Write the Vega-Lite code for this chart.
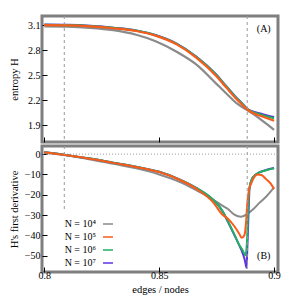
{
  "$schema": "https://vega.github.io/schema/vega-lite/v6.json",
  "padding": {"left": 7, "top": 14, "right": 14, "bottom": 2},
  "spacing": 0,
  "config": {
    "font": "Liberation Serif",
    "view": {"stroke": "#7f7f7f", "strokeWidth": 3},
    "axis": {
      "domain": false, "grid": false, "tickColor": "black", "tickSize": -5, "tickWidth": 1, "zindex": 2,
      "labelOverlap": false, "labelBound": false, "labelFlush": false,
      "labelFont": "Liberation Serif", "labelFontSize": 10, "labelColor": "black",
      "titleFont": "Liberation Serif", "titleFontSize": 10.5, "titleFontWeight": "normal", "titleColor": "black"
    },
    "legend": {"labelFont": "Liberation Serif", "labelFontSize": 10, "labelColor": "black"}
  },
  "datasets": {
    "hdata": [
      {"x": 0.800, "N": "N = 10⁴", "v": 3.085}, {"x": 0.810, "N": "N = 10⁴", "v": 3.082}, {"x": 0.820, "N": "N = 10⁴", "v": 3.068},
      {"x": 0.830, "N": "N = 10⁴", "v": 3.040}, {"x": 0.840, "N": "N = 10⁴", "v": 2.985}, {"x": 0.8487, "N": "N = 10⁴", "v": 2.905},
      {"x": 0.8574, "N": "N = 10⁴", "v": 2.785}, {"x": 0.8661, "N": "N = 10⁴", "v": 2.630}, {"x": 0.8748, "N": "N = 10⁴", "v": 2.400},
      {"x": 0.8791, "N": "N = 10⁴", "v": 2.285}, {"x": 0.8835, "N": "N = 10⁴", "v": 2.170}, {"x": 0.8883, "N": "N = 10⁴", "v": 2.082},
      {"x": 0.891, "N": "N = 10⁴", "v": 2.035}, {"x": 0.894, "N": "N = 10⁴", "v": 1.975}, {"x": 0.897, "N": "N = 10⁴", "v": 1.910},
      {"x": 0.900, "N": "N = 10⁴", "v": 1.845},

      {"x": 0.800, "N": "N = 10⁷", "v": 3.106}, {"x": 0.810, "N": "N = 10⁷", "v": 3.103}, {"x": 0.820, "N": "N = 10⁷", "v": 3.091},
      {"x": 0.830, "N": "N = 10⁷", "v": 3.069}, {"x": 0.840, "N": "N = 10⁷", "v": 3.036}, {"x": 0.8487, "N": "N = 10⁷", "v": 2.978},
      {"x": 0.8574, "N": "N = 10⁷", "v": 2.882}, {"x": 0.8661, "N": "N = 10⁷", "v": 2.724}, {"x": 0.8748, "N": "N = 10⁷", "v": 2.508},
      {"x": 0.8791, "N": "N = 10⁷", "v": 2.371}, {"x": 0.8835, "N": "N = 10⁷", "v": 2.234}, {"x": 0.8864, "N": "N = 10⁷", "v": 2.153},
      {"x": 0.8883, "N": "N = 10⁷", "v": 2.096}, {"x": 0.891, "N": "N = 10⁷", "v": 2.062}, {"x": 0.894, "N": "N = 10⁷", "v": 2.040},
      {"x": 0.897, "N": "N = 10⁷", "v": 2.018}, {"x": 0.900, "N": "N = 10⁷", "v": 1.998},

      {"x": 0.800, "N": "N = 10⁶", "v": 3.104}, {"x": 0.810, "N": "N = 10⁶", "v": 3.101}, {"x": 0.820, "N": "N = 10⁶", "v": 3.089},
      {"x": 0.830, "N": "N = 10⁶", "v": 3.067}, {"x": 0.840, "N": "N = 10⁶", "v": 3.034}, {"x": 0.8487, "N": "N = 10⁶", "v": 2.976},
      {"x": 0.8574, "N": "N = 10⁶", "v": 2.879}, {"x": 0.8661, "N": "N = 10⁶", "v": 2.720}, {"x": 0.8748, "N": "N = 10⁶", "v": 2.504},
      {"x": 0.8791, "N": "N = 10⁶", "v": 2.367}, {"x": 0.8835, "N": "N = 10⁶", "v": 2.230}, {"x": 0.8864, "N": "N = 10⁶", "v": 2.150},
      {"x": 0.8883, "N": "N = 10⁶", "v": 2.094}, {"x": 0.891, "N": "N = 10⁶", "v": 2.055}, {"x": 0.894, "N": "N = 10⁶", "v": 2.030},
      {"x": 0.897, "N": "N = 10⁶", "v": 2.005}, {"x": 0.900, "N": "N = 10⁶", "v": 1.985},

      {"x": 0.800, "N": "N = 10⁵", "v": 3.100}, {"x": 0.810, "N": "N = 10⁵", "v": 3.097}, {"x": 0.820, "N": "N = 10⁵", "v": 3.085},
      {"x": 0.830, "N": "N = 10⁵", "v": 3.063}, {"x": 0.840, "N": "N = 10⁵", "v": 3.030}, {"x": 0.8487, "N": "N = 10⁵", "v": 2.972},
      {"x": 0.8574, "N": "N = 10⁵", "v": 2.873}, {"x": 0.8661, "N": "N = 10⁵", "v": 2.712}, {"x": 0.8748, "N": "N = 10⁵", "v": 2.492},
      {"x": 0.8791, "N": "N = 10⁵", "v": 2.355}, {"x": 0.8835, "N": "N = 10⁵", "v": 2.218}, {"x": 0.8864, "N": "N = 10⁵", "v": 2.140},
      {"x": 0.8883, "N": "N = 10⁵", "v": 2.090}, {"x": 0.891, "N": "N = 10⁵", "v": 2.045}, {"x": 0.894, "N": "N = 10⁵", "v": 2.015},
      {"x": 0.897, "N": "N = 10⁵", "v": 1.985}, {"x": 0.900, "N": "N = 10⁵", "v": 1.955}
    ],
    "ddata": [
      {"x": 0.800, "N": "N = 10⁴", "v": 0.8}, {"x": 0.810, "N": "N = 10⁴", "v": -0.7}, {"x": 0.820, "N": "N = 10⁴", "v": -2.6},
      {"x": 0.830, "N": "N = 10⁴", "v": -4.8}, {"x": 0.840, "N": "N = 10⁴", "v": -7.0}, {"x": 0.850, "N": "N = 10⁴", "v": -10.0},
      {"x": 0.8588, "N": "N = 10⁴", "v": -13.6}, {"x": 0.8661, "N": "N = 10⁴", "v": -17.7}, {"x": 0.8733, "N": "N = 10⁴", "v": -22.2},
      {"x": 0.8777, "N": "N = 10⁴", "v": -25.5}, {"x": 0.8799, "N": "N = 10⁴", "v": -27.0}, {"x": 0.8827, "N": "N = 10⁴", "v": -29.8},
      {"x": 0.8857, "N": "N = 10⁴", "v": -30.8}, {"x": 0.8886, "N": "N = 10⁴", "v": -29.2}, {"x": 0.891, "N": "N = 10⁴", "v": -27.0},
      {"x": 0.8936, "N": "N = 10⁴", "v": -24.0}, {"x": 0.8965, "N": "N = 10⁴", "v": -21.0}, {"x": 0.900, "N": "N = 10⁴", "v": -16.4},

      {"x": 0.800, "N": "N = 10⁷", "v": 0.9}, {"x": 0.810, "N": "N = 10⁷", "v": -0.5}, {"x": 0.820, "N": "N = 10⁷", "v": -2.2},
      {"x": 0.830, "N": "N = 10⁷", "v": -4.2}, {"x": 0.840, "N": "N = 10⁷", "v": -6.2}, {"x": 0.850, "N": "N = 10⁷", "v": -8.7},
      {"x": 0.8588, "N": "N = 10⁷", "v": -12.4}, {"x": 0.8661, "N": "N = 10⁷", "v": -16.6}, {"x": 0.8733, "N": "N = 10⁷", "v": -22.3},
      {"x": 0.8777, "N": "N = 10⁷", "v": -28.4}, {"x": 0.8799, "N": "N = 10⁷", "v": -33.3}, {"x": 0.8827, "N": "N = 10⁷", "v": -39.8},
      {"x": 0.8849, "N": "N = 10⁷", "v": -45.0}, {"x": 0.8859, "N": "N = 10⁷", "v": -47.5}, {"x": 0.8871, "N": "N = 10⁷", "v": -51.5},
      {"x": 0.8876, "N": "N = 10⁷", "v": -54.0}, {"x": 0.8880, "N": "N = 10⁷", "v": -56.0}, {"x": 0.8884, "N": "N = 10⁷", "v": -44.8},
      {"x": 0.8887, "N": "N = 10⁷", "v": -35.0}, {"x": 0.8890, "N": "N = 10⁷", "v": -25.0}, {"x": 0.8893, "N": "N = 10⁷", "v": -17.0},
      {"x": 0.8907, "N": "N = 10⁷", "v": -11.5}, {"x": 0.8936, "N": "N = 10⁷", "v": -9.0}, {"x": 0.8965, "N": "N = 10⁷", "v": -7.8},
      {"x": 0.900, "N": "N = 10⁷", "v": -6.8},

      {"x": 0.800, "N": "N = 10⁶", "v": 0.9}, {"x": 0.810, "N": "N = 10⁶", "v": -0.5}, {"x": 0.820, "N": "N = 10⁶", "v": -2.2},
      {"x": 0.830, "N": "N = 10⁶", "v": -4.2}, {"x": 0.840, "N": "N = 10⁶", "v": -6.2}, {"x": 0.850, "N": "N = 10⁶", "v": -8.7},
      {"x": 0.8588, "N": "N = 10⁶", "v": -12.4}, {"x": 0.8661, "N": "N = 10⁶", "v": -16.6}, {"x": 0.8733, "N": "N = 10⁶", "v": -22.3},
      {"x": 0.8777, "N": "N = 10⁶", "v": -28.2}, {"x": 0.8799, "N": "N = 10⁶", "v": -33.0}, {"x": 0.8827, "N": "N = 10⁶", "v": -39.5},
      {"x": 0.8849, "N": "N = 10⁶", "v": -44.8}, {"x": 0.8859, "N": "N = 10⁶", "v": -46.5}, {"x": 0.8871, "N": "N = 10⁶", "v": -49.0},
      {"x": 0.8875, "N": "N = 10⁶", "v": -49.8}, {"x": 0.8883, "N": "N = 10⁶", "v": -40.8}, {"x": 0.8886, "N": "N = 10⁶", "v": -30.0},
      {"x": 0.8893, "N": "N = 10⁶", "v": -16.4}, {"x": 0.8907, "N": "N = 10⁶", "v": -11.5}, {"x": 0.8936, "N": "N = 10⁶", "v": -9.0},
      {"x": 0.8965, "N": "N = 10⁶", "v": -7.9}, {"x": 0.900, "N": "N = 10⁶", "v": -6.9},

      {"x": 0.800, "N": "N = 10⁵", "v": 0.9}, {"x": 0.810, "N": "N = 10⁵", "v": -0.6}, {"x": 0.820, "N": "N = 10⁵", "v": -2.3},
      {"x": 0.830, "N": "N = 10⁵", "v": -4.3}, {"x": 0.840, "N": "N = 10⁵", "v": -6.3}, {"x": 0.850, "N": "N = 10⁵", "v": -8.8},
      {"x": 0.8588, "N": "N = 10⁵", "v": -12.6}, {"x": 0.8661, "N": "N = 10⁵", "v": -17.0}, {"x": 0.8733, "N": "N = 10⁵", "v": -23.5},
      {"x": 0.8777, "N": "N = 10⁵", "v": -30.0}, {"x": 0.8799, "N": "N = 10⁵", "v": -31.8}, {"x": 0.8827, "N": "N = 10⁵", "v": -35.5},
      {"x": 0.8849, "N": "N = 10⁵", "v": -39.3}, {"x": 0.8859, "N": "N = 10⁵", "v": -41.2}, {"x": 0.8871, "N": "N = 10⁵", "v": -39.8},
      {"x": 0.8878, "N": "N = 10⁵", "v": -33.3}, {"x": 0.8883, "N": "N = 10⁵", "v": -25.0}, {"x": 0.8890, "N": "N = 10⁵", "v": -18.0},
      {"x": 0.8900, "N": "N = 10⁵", "v": -14.5}, {"x": 0.8914, "N": "N = 10⁵", "v": -11.2}, {"x": 0.8929, "N": "N = 10⁵", "v": -10.0},
      {"x": 0.8945, "N": "N = 10⁵", "v": -10.3}, {"x": 0.8965, "N": "N = 10⁵", "v": -12.3}, {"x": 0.8987, "N": "N = 10⁵", "v": -14.8},
      {"x": 0.900, "N": "N = 10⁵", "v": -17.2}
    ]
  },
  "vconcat": [
    {
      "width": 236, "height": 126,
      "layer": [
        {
          "data": {"name": "hdata"},
          "mark": {"type": "line", "interpolate": "monotone", "strokeWidth": 2.2, "clip": true},
          "encoding": {
            "x": {"field": "x", "type": "quantitative", "scale": {"domain": [0.799, 0.9017], "nice": false, "zero": false},
                  "axis": {"orient": "bottom", "values": [0.8, 0.85, 0.9], "tickCount": 20, "labels": false, "title": null}},
            "y": {"field": "v", "type": "quantitative", "scale": {"domain": [1.7, 3.21], "nice": false, "zero": false},
                  "axis": {"orient": "left", "values": [1.9, 2.2, 2.5, 2.8, 3.1], "tickCount": 20, "format": ".1f", "labelOverlap": false, "title": "entropy H", "titlePadding": 8, "labelPadding": 7}},
            "color": {"field": "N", "type": "nominal",
                      "scale": {"domain": ["N = 10⁴", "N = 10⁵", "N = 10⁶", "N = 10⁷"], "range": ["#8a8a8a", "#fb5b1a", "#22b060", "#5b33e0"]},
                      "legend": {"orient": "none", "legendX": 60, "legendY": 202, "title": null, "symbolType": "stroke",
                                 "symbolSize": 100, "symbolStrokeWidth": 1.5, "labelAlign": "right", "labelOffset": -18, "rowPadding": 2}}
          }
        },
        {
          "data": {"values": [{}]},
          "mark": {"type": "rule", "strokeDash": [3, 3], "color": "#999999", "strokeWidth": 1},
          "encoding": {"x": {"datum": 0.8087}}
        },
        {
          "data": {"values": [{}]},
          "mark": {"type": "rule", "strokeDash": [3, 3], "color": "#999999", "strokeWidth": 1},
          "encoding": {"x": {"datum": 0.8883}}
        },
        {
          "data": {"values": [{}]},
          "mark": {"type": "text", "fontSize": 10, "font": "Liberation Serif", "align": "center", "baseline": "middle", "text": "(A)"},
          "encoding": {"x": {"datum": 0.8955}, "y": {"datum": 3.05}}
        }
      ]
    },
    {
      "width": 236, "height": 126,
      "layer": [
        {
          "data": {"values": [{}]},
          "mark": {"type": "rule", "strokeDash": [1, 2], "color": "#999999", "strokeWidth": 1},
          "encoding": {"y": {"datum": 0}}
        },
        {
          "data": {"name": "ddata"},
          "mark": {"type": "line", "interpolate": "monotone", "strokeWidth": 2, "clip": true},
          "encoding": {
            "x": {"field": "x", "type": "quantitative", "scale": {"domain": [0.799, 0.9017], "nice": false, "zero": false},
                  "axis": {"orient": "bottom", "values": [0.8, 0.85, 0.9], "tickCount": 20, "format": "~g", "title": "edges / nodes", "titlePadding": 4, "labelPadding": 3}},
            "y": {"field": "v", "type": "quantitative", "scale": {"domain": [-58, 4], "nice": false, "zero": false},
                  "axis": {"orient": "left", "values": [0, -10, -20, -30, -40, -50], "tickCount": 20, "labelOverlap": false, "title": "H's first derivative", "titlePadding": 5, "labelPadding": 7}},
            "color": {"field": "N", "type": "nominal",
                      "scale": {"domain": ["N = 10⁴", "N = 10⁵", "N = 10⁶", "N = 10⁷"], "range": ["#8a8a8a", "#fb5b1a", "#22b060", "#5b33e0"]},
                      "legend": {"orient": "none", "legendX": 60, "legendY": 202, "title": null, "symbolType": "stroke",
                                 "symbolSize": 100, "symbolStrokeWidth": 1.5, "labelAlign": "right", "labelOffset": -18, "rowPadding": 2}}
          }
        },
        {
          "data": {"values": [{}]},
          "mark": {"type": "rule", "strokeDash": [3, 3], "color": "#999999", "strokeWidth": 1},
          "encoding": {"x": {"datum": 0.8087}, "y": {"datum": 4}, "y2": {"datum": -27}}
        },
        {
          "data": {"values": [{}]},
          "mark": {"type": "rule", "strokeDash": [3, 3], "color": "#999999", "strokeWidth": 1},
          "encoding": {"x": {"datum": 0.8883}}
        },
        {
          "data": {"values": [{}]},
          "mark": {"type": "text", "fontSize": 10, "font": "Liberation Serif", "align": "center", "baseline": "middle", "text": "(B)"},
          "encoding": {"x": {"datum": 0.8955}, "y": {"datum": -50}}
        }
      ]
    }
  ]
}
